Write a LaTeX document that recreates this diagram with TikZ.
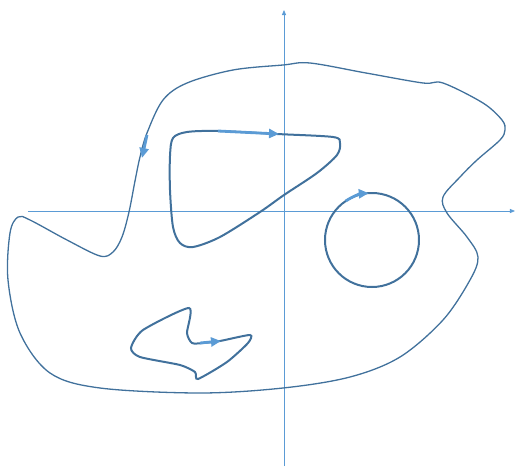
\documentclass[tikz,border=0pt]{standalone}
\usetikzlibrary{arrows.meta}
\definecolor{loopblue}{HTML}{41719C}
\definecolor{tipblue}{HTML}{5B9BD5}
\newcommand{\axesxy}[4]{\draw[axis](#1,0) -- (#2,0); \draw[axis](0,#3) -- (0,#4);}

\begin{document}
\begin{tikzpicture}[x = 1pt, y = 1pt,
  axis/.style = {tipblue, line width = 0.8pt, -{Triangle[length=5pt, width=4pt]}},
  outer/.style = {loopblue, line width = 1.3pt},
  inner/.style = {loopblue, line width = 2pt},
  flow/.style = {tipblue, line width = 2.8pt, -{Triangle[length=10pt, width=9pt]}}]
\useasboundingbox (-284,-256) rectangle (231,211);
\axesxy{-256}{231}{-255}{201};
% outer curve
\draw[outer] plot[smooth cycle, tension = 0.55] coordinates {
  (26,148) (82,138) (139,128) (159,128) (199,108) (218,91) (221,81)
  (216,71) (193,51) (176,34) (159,14) (163,-2) (183,-26) (194,-46) (186,-69)
  (159,-109) (116,-146) (66,-166) (-1,-177) (-84,-182) (-184,-177) (-234,-162)
  (-264,-122) (-276,-69) (-274,-22) (-266,-6) (-254,-9) (-217,-29) (-184,-45)
  (-171,-41) (-162,-26) (-155,-1) (-149,30) (-144,54) (-137,78) (-121,111)
  (-97,128) (-51,141) (-1,146)};
\draw[flow] (-137,76) -- (-142,53);
% triangle loop
\draw[inner] plot[smooth cycle, tension = 0.5] coordinates {
  (-66,80) (-7,77) (49,74) (56,68) (53,56) (33,38) (0,16) (-24,-1) (-64,-26)
  (-91,-36) (-104,-32) (-111,-16) (-114,21) (-114,55) (-111,73) (-97,79)};
\draw[flow] (-66,80) -- (-5,77);
% circle loop
\draw[inner] (88,-29) circle (47);
\draw[flow] (88,-29) ++(124:47) arc (124:94:47);
% small loop
\draw[inner] plot[smooth cycle, tension = 0.4] coordinates {
  (-153,-137) (-141,-119) (-95,-97) (-97,-122) (-92,-132) (-81,-132) (-64,-130)
  (-34,-124) (-36,-132) (-57,-151) (-86,-168) (-89,-161) (-104,-154) (-144,-146)};
\draw[flow] (-84,-132) -- (-63,-130);
\end{tikzpicture}
\end{document}
